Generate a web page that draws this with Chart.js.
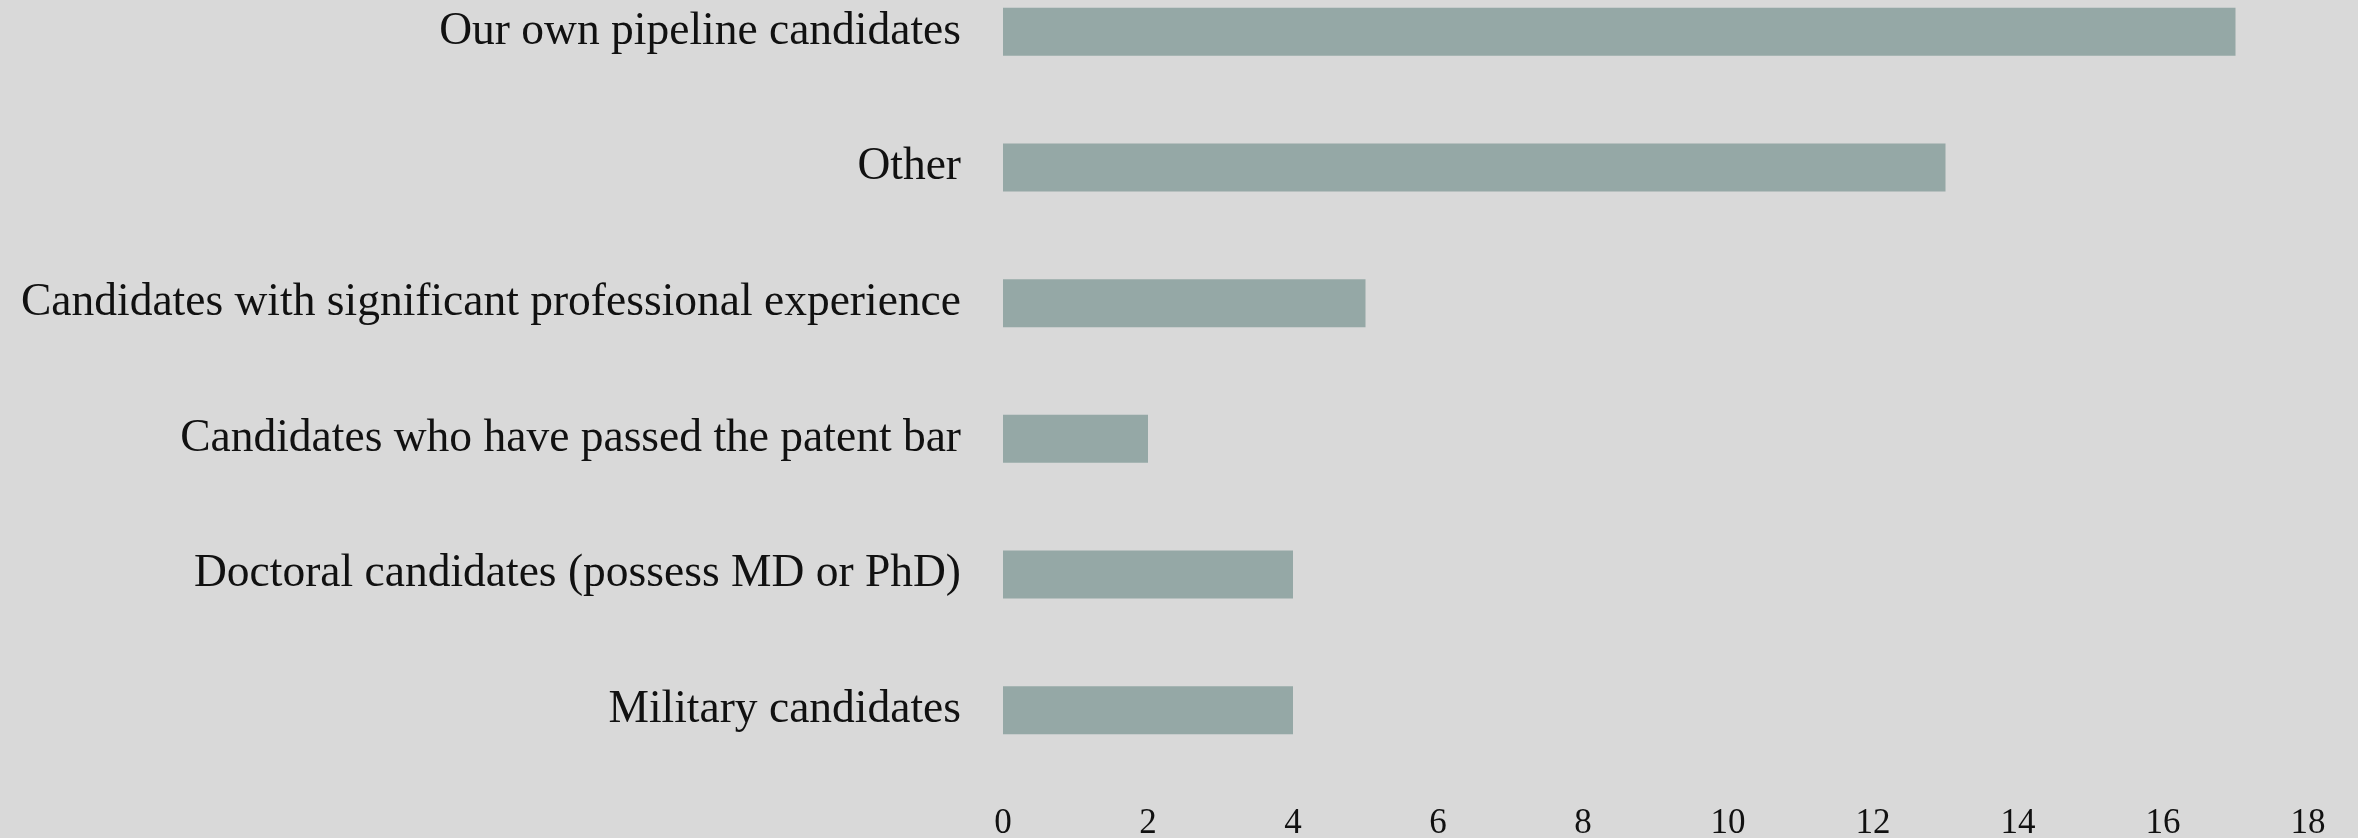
<!DOCTYPE html>
<html>
<head>
<meta charset="utf-8">
<script src="https://cdn.jsdelivr.net/npm/chart.js@4"></script>
<style>
  html, body { margin: 0; padding: 0; background: #d9d9d9; overflow: hidden; }
  #wrap { position: absolute; left: 0; top: -36px; width: 2358px; height: 881px; }
</style>
</head>
<body>
<div id="wrap"><canvas id="c" width="2358" height="881"></canvas></div>
<script>
const categories = [
  "Our own pipeline candidates",
  "Other",
  "Candidates with significant professional experience",
  "Candidates who have passed the patent bar",
  "Doctoral candidates (possess MD or PhD)",
  "Military candidates"
];
const counts = [17, 13, 5, 2, 4, 4];
const tickLabels = ["0", "2", "4", "6", "8", "10", "12", "14", "16", "18"];

const FONT = "'Liberation Serif', 'DejaVu Serif', serif";

new Chart(document.getElementById('c'), {
  type: 'bar',
  data: {
    labels: categories,
    datasets: [{
      data: counts,
      backgroundColor: '#95a8a6',
      borderWidth: 0,
      categoryPercentage: 1,
      barPercentage: 0.354
    }]
  },
  options: {
    indexAxis: 'y',
    responsive: false,
    animation: false,
    layout: { padding: { left: 0, right: 50, top: 0, bottom: 0 } },
    plugins: { legend: { display: false }, tooltip: { enabled: false } },
    scales: {
      x: {
        min: 0, max: 18,
        grid: { display: false },
        border: { display: false },
        afterFit: s => { s.height = 67; s.paddingLeft = 0; s.paddingRight = 0; },
        afterBuildTicks: s => { s.ticks = tickLabels.map(t => ({ value: Number(t) })); },
        ticks: {
          color: '#111',
          padding: 17,
          maxRotation: 0,
          autoSkip: false,
          font: { family: FONT, size: 35 },
          callback: v => tickLabels[tickLabels.indexOf(String(v))]
        }
      },
      y: {
        grid: { display: false },
        border: { display: false },
        afterFit: s => { s.width = 1003; s.paddingTop = 0; s.paddingBottom = 0; },
        ticks: {
          color: '#111',
          padding: 34,
          autoSkip: false,
          font: { family: FONT, size: 45.5 }
        }
      }
    }
  }
});
</script>
</body>
</html>
